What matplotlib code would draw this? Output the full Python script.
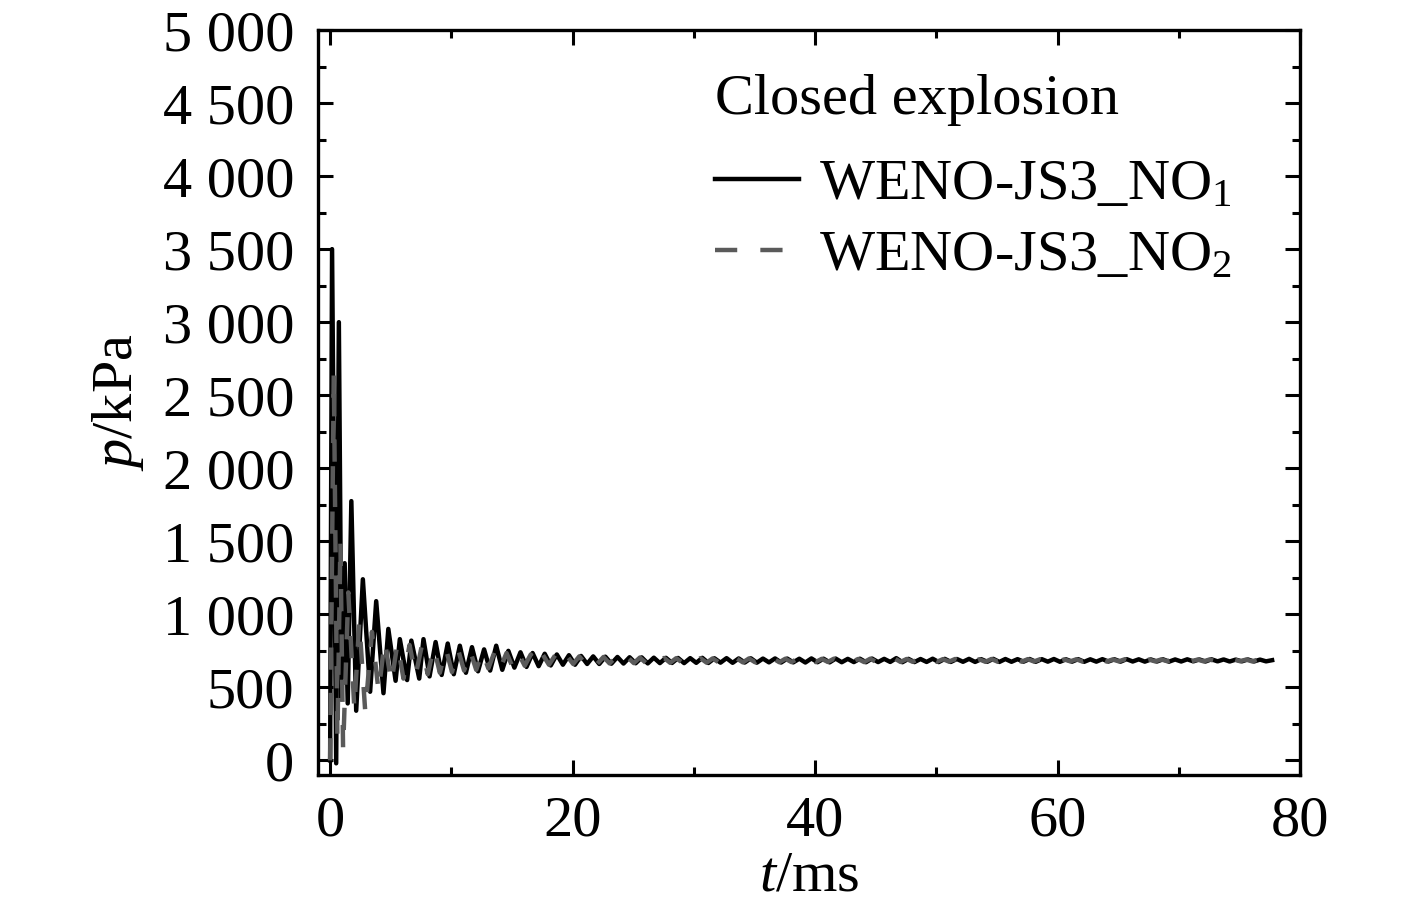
import numpy as np
import matplotlib
matplotlib.use("Agg")
import matplotlib.pyplot as plt
from matplotlib.ticker import MultipleLocator, FixedLocator

plt.rcParams['font.family'] = ['Liberation Serif', 'DejaVu Serif']
plt.rcParams['mathtext.fontset'] = 'custom'
plt.rcParams['mathtext.rm'] = 'Liberation Serif'
plt.rcParams['mathtext.it'] = 'Liberation Serif:italic'

#-----------------------------------------------------------------------------------------
# WENO-JS3_NO1 (siyah, düz çizgi) - ilk salınımlar
t_no1_early = [0.0, 0.16, 0.5, 0.72, 0.95, 1.2, 1.45, 1.75, 2.15, 2.7,
               3.3, 3.8, 4.4, 4.8, 5.4, 5.75, 6.35, 6.7, 7.35, 7.7]
p_no1_early = [0, 3500, -20, 3000, 420, 1350, 390, 1775, 340, 1240,
               470, 1090, 460, 900, 545, 830, 550, 820, 560, 830]

# sonraki kısım: 8.2 ms'den itibaren 0.5 ms aralıklı değerler
t_no1_start, dt_no1 = 8.2, 0.5
p_no1_late = [575, 810, 585, 800, 590, 785, 600, 775, 610, 760,
              615, 785, 620, 750, 635, 740, 640, 735, 645, 730,
              650, 725, 655, 720, 655, 715, 660, 712, 660, 710,
              662, 708, 663, 706, 665, 705, 664, 703, 666, 702,
              667, 701, 666, 700, 668, 702, 667, 699, 669, 700,
              668, 698, 670, 699, 669, 697, 671, 698, 670, 697,
              671, 696, 670, 698, 672, 696, 671, 697, 672, 695,
              673, 696, 672, 697, 673, 695, 674, 700, 672, 695,
              673, 694, 674, 696, 673, 695, 674, 694, 675, 695,
              674, 693, 675, 695, 674, 694, 675, 693, 676, 694,
              675, 693, 676, 694, 675, 692, 676, 693, 675, 692,
              676, 693, 677, 692, 676, 693, 677, 692, 676, 691,
              677, 692, 676, 691, 677, 692, 678, 691, 677, 692,
              678, 691, 677, 690, 678, 691, 677, 690, 678, 686]

# WENO-JS3_NO2 (gri, kesikli çizgi)
t_no2_early = [0.0, 0.3, 0.6, 0.85, 1.07, 1.5, 2.0, 2.4, 2.9,
               3.45, 4.0, 4.5, 5.05, 5.55, 6.05, 6.55, 7.05, 7.55]
p_no2_early = [0, 2650, 150, 1500, 70, 1150, 350, 950, 330,
               880, 470, 820, 530, 800, 560, 790, 580, 780]

t_no2_start, dt_no2 = 8.05, 0.5
p_no2_late = [590, 775, 600, 765, 605, 760, 615, 750, 620, 745,
              630, 740, 635, 735, 640, 730, 648, 725, 650, 722,
              655, 718, 658, 714, 660, 712, 662, 710, 663, 708,
              664, 706, 665, 705, 666, 704, 667, 702, 668, 701,
              668, 700, 669, 699, 670, 700, 669, 698, 671, 699,
              670, 697, 671, 698, 672, 696, 671, 697, 672, 696,
              673, 695, 672, 697, 673, 695, 674, 696, 673, 695,
              674, 694, 673, 696, 674, 695, 675, 698, 674, 694,
              675, 694, 674, 695, 675, 693, 676, 694, 675, 693,
              676, 692, 675, 694, 676, 693, 677, 692, 676, 693,
              677, 692, 676, 693, 677, 691, 678, 692, 677, 691,
              678, 692, 677, 691, 678, 692, 677, 691, 678, 690,
              678, 691, 679, 690, 678, 691, 679, 690, 678, 691,
              679, 690, 678, 691, 679, 690, 678, 690, 679, 686]

x_ticks = [0, 20, 40, 60, 80]
y_ticks = [0, 500, 1000, 1500, 2000, 2500, 3000, 3500, 4000, 4500, 5000]
y_tick_labels = ['0', '500', '1 000', '1 500', '2 000', '2 500',
                 '3 000', '3 500', '4 000', '4 500', '5 000']

#-----------------------------------------------------------------------------------------
t_no1 = np.concatenate([t_no1_early, t_no1_start + dt_no1 * np.arange(len(p_no1_late))])
p_no1 = np.concatenate([p_no1_early, p_no1_late])
t_no2 = np.concatenate([t_no2_early, t_no2_start + dt_no2 * np.arange(len(p_no2_late))])
p_no2 = np.concatenate([p_no2_early, p_no2_late])

fs = 42
fig = plt.figure(figsize=(14.17, 9.02), dpi=100)
ax = fig.add_axes([318 / 1417, 1 - 775 / 902, (1300 - 318) / 1417, (775 - 30) / 902])

ax.plot(t_no1, p_no1, color='black', lw=3.2, label='WENO-JS3_NO$_1$', zorder=2)
ax.plot(t_no2, p_no2, color='#5a5a5a', lw=3.2, dashes=(5.0, 5.2),
        label='WENO-JS3_NO$_2$', zorder=3)

ax.set_xlim(-1, 80)
ax.set_ylim(-100, 5000)
ax.xaxis.set_major_locator(FixedLocator(x_ticks))
ax.xaxis.set_minor_locator(MultipleLocator(10))
ax.set_yticks(y_ticks)
ax.set_yticklabels(y_tick_labels)
ax.yaxis.set_minor_locator(MultipleLocator(250))

ax.tick_params(which='both', direction='in', top=True, right=True, width=2.2, labelsize=fs)
ax.tick_params(which='major', length=11)
ax.tick_params(which='minor', length=6)
ax.tick_params(axis='x', which='major', pad=15)
ax.tick_params(axis='y', which='major', pad=17)
for s in ax.spines.values():
    s.set_linewidth(2.4)

ax.set_xlabel('$t$/ms', fontsize=fs, labelpad=2)
ax.set_ylabel('$p$/kPa', fontsize=fs, labelpad=12)

# başlık ayrı yazılıyor (lejant ile arasındaki boşluk için)
ax.text(0.404, 0.906, 'Closed explosion', transform=ax.transAxes,
        fontsize=fs, ha='left', va='center')
leg = ax.legend(loc='upper left', bbox_to_anchor=(0.404, 0.828), frameon=False,
                fontsize=fs, handlelength=1.45, handletextpad=0.33,
                labelspacing=0.32, borderpad=0, borderaxespad=0)

fig.savefig('out.png', dpi=100)
